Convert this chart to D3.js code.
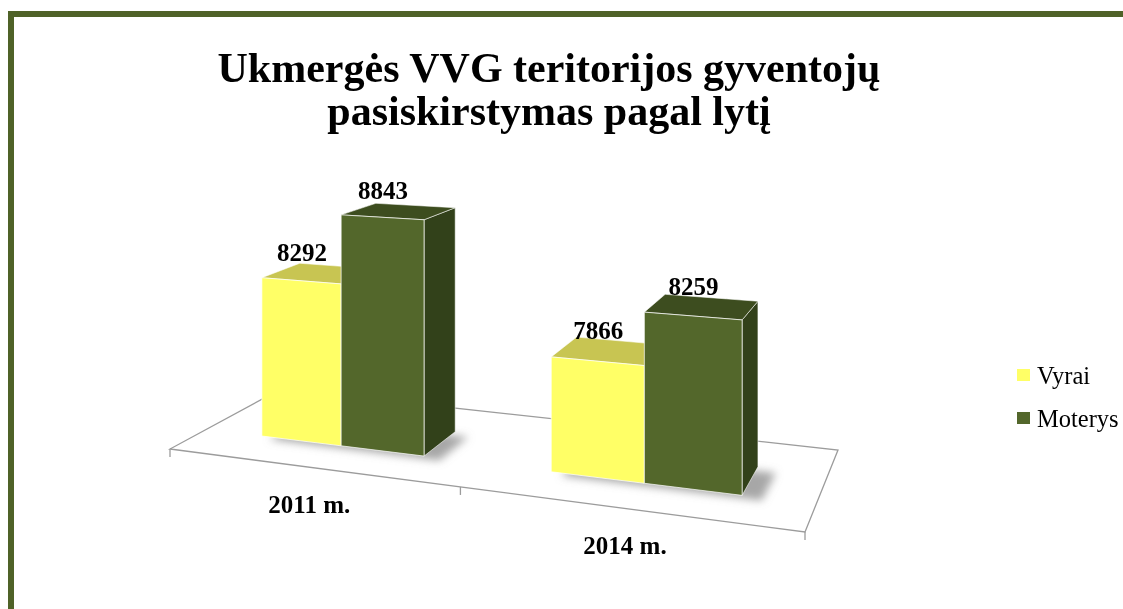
<!DOCTYPE html>
<html><head><meta charset="utf-8">
<script src="https://cdn.jsdelivr.net/npm/d3@7"></script>
<style>html,body{margin:0;padding:0;background:#fff;overflow:hidden}</style>
</head><body>
<svg id="c" width="1123" height="609"></svg>
<script>
const categories = ["2011 m.", "2014 m."];
const seriesNames = ["Vyrai", "Moterys"];
const vyrai = [8292, 7866];
const moterys = [8843, 8259];
const titleLines = ["Ukmergės VVG teritorijos gyventojų", "pasiskirstymas pagal lytį"];
const valueDomain = [7000, 9000];

const W = 1123, H = 609;
const svg = d3.select("#c");
svg.append("rect").attr("width", W).attr("height", H).attr("fill", "#fff");

const defs = svg.append("defs");
defs.append("filter").attr("id", "blur").attr("x", "-50%").attr("y", "-50%").attr("width", "200%").attr("height", "200%")
  .append("feGaussianBlur").attr("stdDeviation", 4);

// outer frame
svg.append("rect").attr("x", 11).attr("y", 14).attr("width", W + 40).attr("height", H + 40)
  .attr("fill", "none").attr("stroke", "#4F6228").attr("stroke-width", 6);

// perspective floor (homography unit square -> quad)
const FL = [170, 449], FR = [805, 532], BR = [838, 450], BL = [281, 389];
function sq2quad(p0, p1, p2, p3) {
  const dx1 = p1[0] - p2[0], dx2 = p3[0] - p2[0], dx3 = p0[0] - p1[0] + p2[0] - p3[0];
  const dy1 = p1[1] - p2[1], dy2 = p3[1] - p2[1], dy3 = p0[1] - p1[1] + p2[1] - p3[1];
  const det = dx1 * dy2 - dx2 * dy1;
  const g = (dx3 * dy2 - dx2 * dy3) / det;
  const h = (dx1 * dy3 - dx3 * dy1) / det;
  return {
    a: p1[0] - p0[0] + g * p1[0], b: p3[0] - p0[0] + h * p3[0], c: p0[0],
    d: p1[1] - p0[1] + g * p1[1], e: p3[1] - p0[1] + h * p3[1], f: p0[1], g, h
  };
}
const M = sq2quad(FL, FR, BR, BL);
function proj(u, v, hp) {
  const w = M.g * u + M.h * v + 1;
  return [(M.a * u + M.b * v + M.c) / w, (M.d * u + M.e * v + M.f - hp) / w];
}

const xBand = d3.scaleBand().domain(categories).range([0, 1]).paddingInner(0.42).paddingOuter(0.21);
const xSeries = d3.scaleBand().domain(seriesNames).range([0, xBand.bandwidth()]);
const hScale = d3.scaleLinear().domain(valueDomain).range([0, 252]);
const depth = [0.3, 0.66];

const colors = {
  Vyrai: { front: "#FFFF66", top: "#C8C552", side: "#D2CF4C" },
  Moterys: { front: "#53672B", top: "#3D4D1F", side: "#32411A" }
};

// floor
svg.append("path")
  .attr("d", d3.line()([proj(0, 0, 0), proj(1, 0, 0), proj(1, 1, 0), proj(0, 1, 0)]) + "Z")
  .attr("fill", "#fff").attr("stroke", "#9c9c9c").attr("stroke-width", 1.3);
// ticks on front edge
[0, 0.5, 1].forEach(u => {
  const p = proj(u, 0, 0);
  svg.append("line").attr("x1", p[0]).attr("y1", p[1]).attr("x2", p[0]).attr("y2", p[1] + 8)
    .attr("stroke", "#9c9c9c").attr("stroke-width", 1.3);
});

const bars = [];
categories.forEach((cat, i) => {
  [vyrai[i], moterys[i]].forEach((val, j) => {
    const s = seriesNames[j];
    const u0 = xBand(cat) + xSeries(s), u1 = u0 + xSeries.bandwidth();
    bars.push({ cat, s, val, u0, u1 });
  });
});

// shadows
const gShadow = svg.append("g").attr("filter", "url(#blur)");
categories.forEach(cat => {
  const u0 = xBand(cat) + 0.02, u1 = xBand(cat) + xBand.bandwidth() + 0.03;
  const v0 = depth[0] - 0.03, v1 = depth[1] - 0.05;
  gShadow.append("path")
    .attr("d", d3.line()([proj(u0, v0, 0), proj(u1, v0, 0), proj(u1, v1, 0), proj(u0, v1, 0)]) + "Z")
    .attr("fill", "#8a8a8a").attr("opacity", 0.75);
});

const gBars = svg.append("g");
bars.forEach(b => {
  const h = hScale(b.val), [v0, v1] = depth, c = colors[b.s];
  const poly = pts => d3.line()(pts) + "Z";
  gBars.append("path").attr("d", poly([proj(b.u1, v0, 0), proj(b.u1, v1, 0), proj(b.u1, v1, h), proj(b.u1, v0, h)]))
    .attr("fill", c.side).attr("stroke", "rgba(255,255,255,0.55)").attr("stroke-width", 1);
  gBars.append("path").attr("d", poly([proj(b.u0, v0, h), proj(b.u1, v0, h), proj(b.u1, v1, h), proj(b.u0, v1, h)]))
    .attr("fill", c.top).attr("stroke", "rgba(255,255,255,0.55)").attr("stroke-width", 1);
  gBars.append("path").attr("d", poly([proj(b.u0, v0, 0), proj(b.u1, v0, 0), proj(b.u1, v0, h), proj(b.u0, v0, h)]))
    .attr("fill", c.front).attr("stroke", "rgba(255,255,255,0.7)").attr("stroke-width", 1);
});

// value labels
bars.forEach(b => {
  const uc = (b.u0 + b.u1) / 2;
  const pf = proj(uc, depth[0], hScale(b.val));
  const pm = proj(uc, 0.48, hScale(b.val));
  svg.append("text").attr("x", pf[0] + 1).attr("y", pm[1] - 12)
    .attr("text-anchor", "middle").attr("font-family", "Liberation Serif, Times New Roman, serif")
    .attr("font-weight", "bold").attr("font-size", 25).attr("fill", "#000").text(b.val);
});

// category labels
categories.forEach(cat => {
  const p = proj(xBand(cat) + xBand.bandwidth() / 2, 0, 0);
  svg.append("text").attr("x", p[0]).attr("y", p[1] + 46)
    .attr("text-anchor", "middle").attr("font-family", "Liberation Serif, Times New Roman, serif")
    .attr("font-weight", "bold").attr("font-size", 25).attr("fill", "#000").text(cat);
});

// title
titleLines.forEach((t, i) => {
  svg.append("text").attr("x", 549).attr("y", 82 + i * 43)
    .attr("text-anchor", "middle").attr("font-family", "Liberation Serif, Times New Roman, serif")
    .attr("font-weight", "bold").attr("font-size", 42).attr("fill", "#000").text(t);
});

// legend
seriesNames.forEach((s, i) => {
  const y = 369 + i * 43;
  svg.append("rect").attr("x", 1017).attr("y", y).attr("width", 13).attr("height", 12).attr("fill", colors[s].front);
  svg.append("text").attr("x", 1037).attr("y", y + 15)
    .attr("font-family", "Liberation Serif, Times New Roman, serif").attr("font-size", 24.5).attr("fill", "#000").text(s);
});
</script>
</body></html>
